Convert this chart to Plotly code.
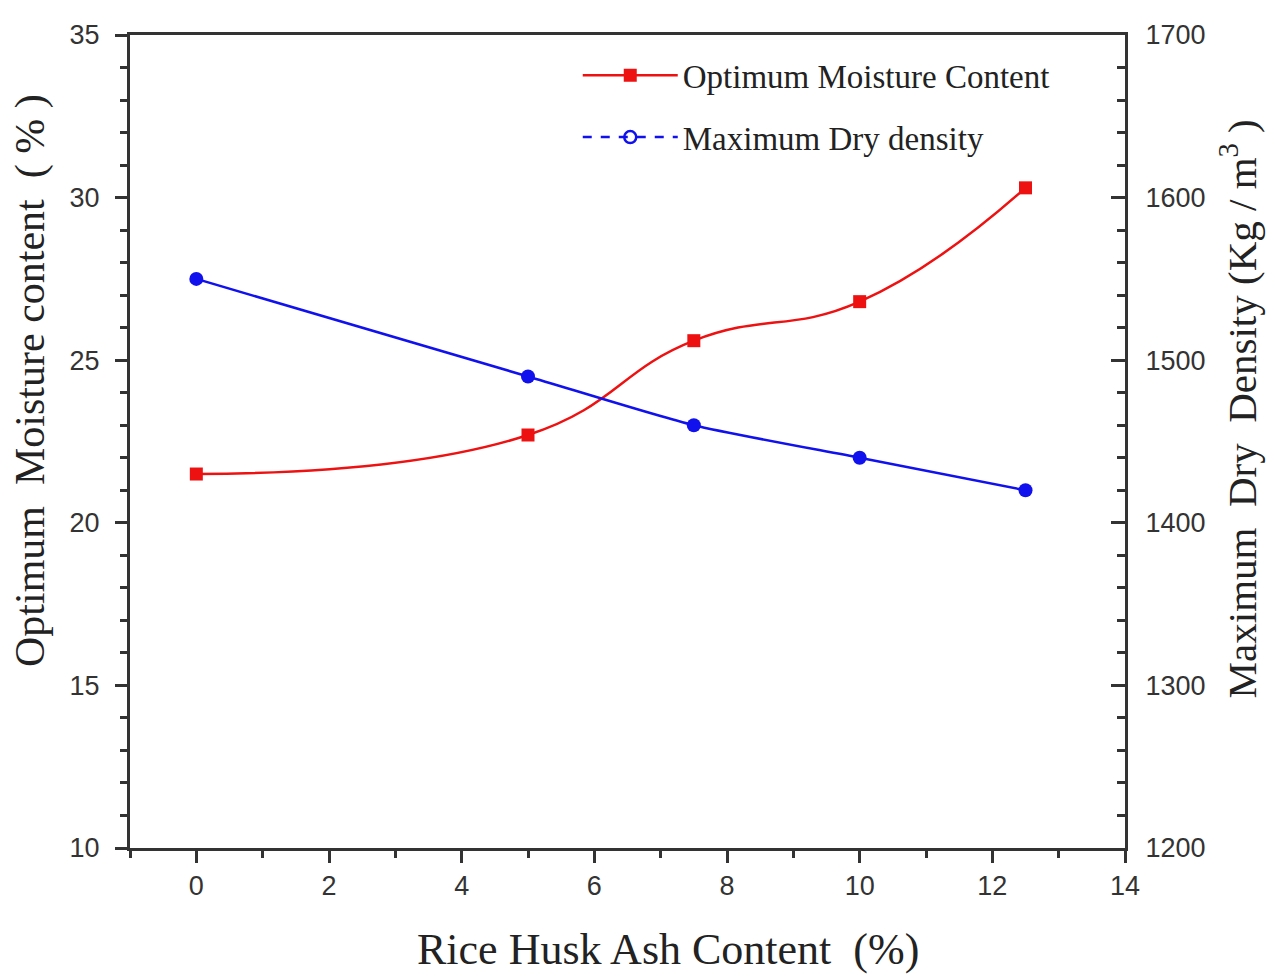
import plotly.graph_objects as go

rha = [0, 5, 7.5, 10, 12.5]
omc = [21.5, 22.7, 25.6, 26.8, 30.3]
mdd = [1550, 1490, 1460, 1440, 1420]

fig = go.Figure()
fig.add_trace(go.Scatter(
    x=rha, y=omc, mode="lines+markers", name="Optimum Moisture Content",
    line=dict(color="#ee1111", width=2.5, shape="spline", smoothing=1.3),
    marker=dict(symbol="square", size=13, color="#ee1111"),
    yaxis="y", legendgroup="a"))
fig.add_trace(go.Scatter(
    x=rha, y=mdd, mode="lines+markers", name="Maximum Dry density",
    line=dict(color="#1111ee", width=2.5, shape="spline", smoothing=0.6),
    marker=dict(symbol="circle", size=14, color="#1111ee"),
    yaxis="y2", showlegend=False))
fig.add_trace(go.Scatter(
    x=[None], y=[None], mode="lines+markers", name="Maximum Dry density",
    line=dict(color="#1111ee", width=2.5, dash="dash"),
    marker=dict(symbol="circle-open", size=12, color="#1111ee", line=dict(width=2.5)),
    yaxis="y2", legendgroup="b"))

axis_col = "#333333"
tickfont = dict(family="Liberation Sans, Arial", size=27, color="#333333")

fig.update_layout(
    width=1275, height=976,
    margin=dict(l=122, r=158, t=25, b=136),
    paper_bgcolor="white", plot_bgcolor="white",
    xaxis=dict(range=[-1, 14], dtick=2, tick0=0, ticks="outside", ticklen=12, tickwidth=2.5,
               tickcolor=axis_col, showline=True, linecolor=axis_col, linewidth=3, mirror=True,
               showgrid=False, zeroline=False, tickfont=tickfont,
               minor=dict(dtick=1, ticks="outside", ticklen=7, tickwidth=2.5, tickcolor=axis_col)),
    yaxis=dict(range=[10, 35], dtick=5, ticks="outside", ticklen=12, tickwidth=2.5,
               tickcolor=axis_col, showline=True, linecolor=axis_col, linewidth=3, mirror=True,
               showgrid=False, zeroline=False, tickfont=tickfont, ticklabelstandoff=10,
               minor=dict(dtick=1, ticks="outside", ticklen=7, tickwidth=2.5, tickcolor=axis_col)),
    yaxis2=dict(range=[1200, 1700], dtick=100, overlaying="y", side="right", ticks="inside",
                ticklen=14, tickwidth=2.5, tickcolor=axis_col, showline=True, linecolor=axis_col,
                linewidth=3, showgrid=False, zeroline=False, tickfont=tickfont, ticklabelstandoff=12,
                minor=dict(dtick=20, ticks="inside", ticklen=8, tickwidth=2.5, tickcolor=axis_col)),
    legend=dict(x=0.45, y=0.985, xanchor="left", yanchor="top", bgcolor="rgba(0,0,0,0)",
                font=dict(family="Liberation Serif, Times New Roman", size=33, color="#222222"),
                tracegroupgap=16, itemwidth=95),
    annotations=[
        dict(text="Rice Husk Ash Content  (%)", xref="paper", yref="paper", x=0.541, y=-0.125,
             xanchor="center", yanchor="middle", showarrow=False,
             font=dict(family="Liberation Serif, Times New Roman", size=44, color="#222222")),
        dict(text="Optimum  Moisture content  ( % )", xref="paper", yref="paper", x=-0.1, y=0.575,
             xanchor="center", yanchor="middle", textangle=-90, showarrow=False,
             font=dict(family="Liberation Serif, Times New Roman", size=42, color="#222222")),
        dict(text="Maximum  Dry  Density (Kg / m<sup>3</sup> )", xref="paper", yref="paper",
             x=1.114, y=0.54, xanchor="center", yanchor="middle", textangle=-90, showarrow=False,
             font=dict(family="Liberation Serif, Times New Roman", size=41, color="#222222")),
    ],
)

fig.write_html("out.html")
